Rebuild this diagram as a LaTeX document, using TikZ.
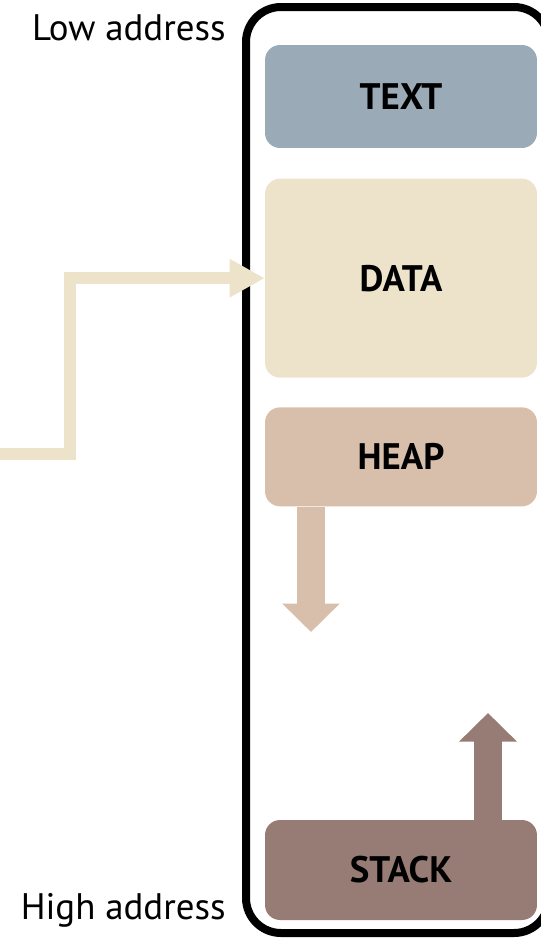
\documentclass[tikz,border=0pt]{standalone}
\usepackage{fontspec}
\setmainfont{PT Sans}
\usepackage{tikz}
\usetikzlibrary{arrows.meta, positioning}
\definecolor{textseg}{RGB}{155, 170, 183}
\definecolor{dataseg}{RGB}{237, 227, 203}
\definecolor{heapseg}{RGB}{216, 191, 172}
\definecolor{stackseg}{RGB}{150, 124, 116}

\begin{document}
\begin{tikzpicture}[
        x=0.02cm, y=-0.02cm,
        segment/.style={rounded corners=0.3cm, minimum width=5.44cm, inner sep=0pt,
                        align=center, font=\fontsize{21}{24}\selectfont\bfseries},
        addr/.style={anchor=east, inner sep=0pt, font=\fontsize{21}{24}\selectfont},
        frame/.style={draw=black, line width=0.16cm, rounded corners=0.7cm},
        dataarrow/.style={-{Triangle[length=0.7cm, width=0.72cm]}, line width=0.24cm,
                          dataseg, miter limit=10},
        growarrow/.style={-{Triangle[length=0.57cm, width=1.12cm]}, line width=0.56cm},
    ]
        \useasboundingbox (0,0) rectangle (541,944);

        % memory frame (right side runs off the page)
        \draw[frame] (246,7) rectangle (549,933);

        \node[segment, fill=textseg,  minimum height=2.06cm] (text)  at (401,96.5) {TEXT};
        \node[segment, fill=dataseg,  minimum height=3.98cm] (data)  [below=0.6cm of text] {DATA};
        \node[segment, fill=heapseg,  minimum height=1.98cm] (heap)  [below=0.58cm of data] {HEAP};
        \node[segment, fill=stackseg, minimum height=2cm]    (stack) at (401,870) {STACK};

        \node[addr] (low)  at (226,28)  {Low address};
        \node[addr] (high) at (226,910) {High address};

        % growth directions
        \coordinate (src)      at (0,454);
        \coordinate (heapend)  at (311,632);
        \coordinate (stackend) at (488,713);

        \draw[dataarrow] (src) -- ++(70,0) |- (data.west);
        \draw[growarrow, heapseg]  (heap.south -| heapend) -- (heapend);
        \draw[growarrow, stackseg] (stack.north -| stackend) -- (stackend);
    \end{tikzpicture}
\end{document}
